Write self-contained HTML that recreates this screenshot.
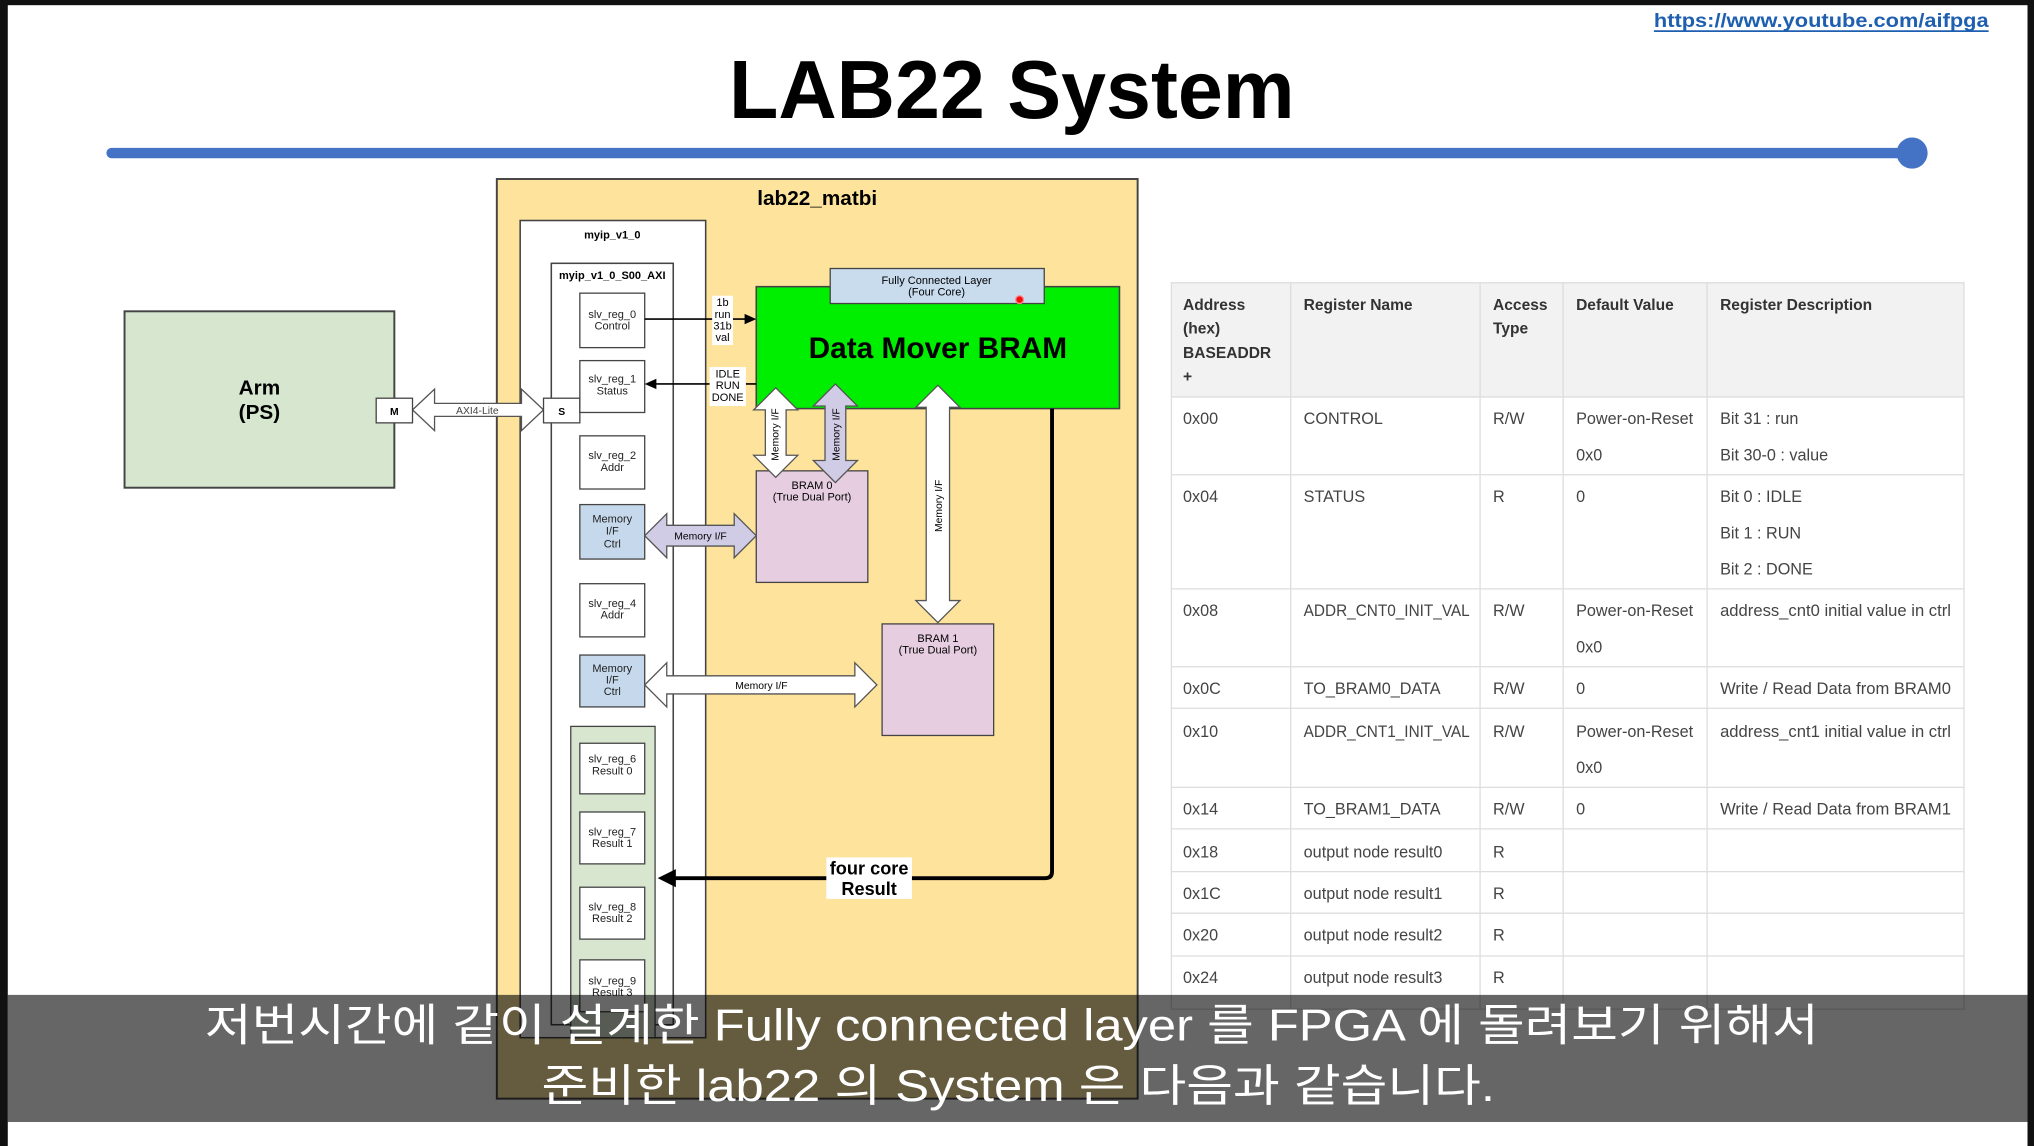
<!DOCTYPE html>
<html><head><meta charset="utf-8"><style>
html,body{margin:0;padding:0;background:#fff;overflow:hidden}
svg{display:block}
</style></head><body>
<svg width="2034" height="1146" viewBox="0 0 1568 883.5" preserveAspectRatio="none" xmlns="http://www.w3.org/2000/svg" font-family="Liberation Sans, Arial, sans-serif">
<rect x="0" y="0" width="1568" height="884" fill="#fff"/>
<rect x="0" y="0" width="1568" height="4" fill="#111"/>
<rect x="0" y="0" width="6" height="884" fill="#111"/>
<rect x="1563" y="0" width="5" height="884" fill="#111"/>
<text x="1404" y="21" text-anchor="middle" font-size="15" font-weight="bold" fill="#1f5fb0" textLength="258" lengthAdjust="spacingAndGlyphs">https://www.youtube.com/aifpga</text>
<line x1="1275" y1="24" x2="1533" y2="24" stroke="#1f5fb0" stroke-width="1.3"/>
<text x="780" y="91" text-anchor="middle" font-size="64" font-weight="bold" fill="#000" textLength="436" lengthAdjust="spacingAndGlyphs">LAB22 System</text>
<line x1="86" y1="118" x2="1474" y2="118" stroke="#4472c4" stroke-width="8" stroke-linecap="round"/>
<circle cx="1474" cy="118" r="12" fill="#4472c4"/>
<rect x="96" y="240" width="208" height="136" fill="#d6e6cf" stroke="#444" stroke-width="1.5"/>
<text x="200" y="304" text-anchor="middle" font-size="16" font-weight="bold">Arm</text>
<text x="200" y="323" text-anchor="middle" font-size="16" font-weight="bold">(PS)</text>
<rect x="383" y="138" width="494" height="709" fill="#fde39c" stroke="#444" stroke-width="1.5"/>
<text x="630" y="158" text-anchor="middle" font-size="16" font-weight="bold">lab22_matbi</text>
<rect x="401" y="170" width="143" height="630" fill="#fff" stroke="#444" stroke-width="1.2"/>
<text x="472" y="184" text-anchor="middle" font-size="8.5" font-weight="bold">myip_v1_0</text>
<rect x="425" y="203" width="94" height="587" fill="#fff" stroke="#444" stroke-width="1.2"/>
<text x="472" y="215" text-anchor="middle" font-size="8.5" font-weight="bold">myip_v1_0_S00_AXI</text>
<polygon points="318,316 335,300 335,311 402,311 402,300 419,316 402,332 402,321 335,321 335,332" fill="#fff" stroke="#555" stroke-width="1"/>
<text x="368" y="319" text-anchor="middle" font-size="8" fill="#444">AXI4-Lite</text>
<rect x="290" y="307" width="28" height="19" fill="#fff" stroke="#444"/>
<text x="304" y="320" text-anchor="middle" font-size="8" font-weight="bold">M</text>
<rect x="419" y="307" width="28" height="19" fill="#fff" stroke="#444"/>
<text x="433" y="320" text-anchor="middle" font-size="8" font-weight="bold">S</text>
<g font-size="8.5" text-anchor="middle" fill="#222">
<rect x="447" y="226" width="50" height="42" fill="#fff" stroke="#444"/>
<text x="472" y="245">slv_reg_0</text><text x="472" y="254">Control</text>
<rect x="447" y="278" width="50" height="40" fill="#fff" stroke="#444"/>
<text x="472" y="295">slv_reg_1</text><text x="472" y="304">Status</text>
<rect x="447" y="336" width="50" height="41" fill="#fff" stroke="#444"/>
<text x="472" y="354">slv_reg_2</text><text x="472" y="363">Addr</text>
<rect x="447" y="389" width="50" height="42" fill="#c6d9ec" stroke="#444"/>
<text x="472" y="403">Memory</text><text x="472" y="412">I/F</text><text x="472" y="422">Ctrl</text>
<rect x="447" y="450" width="50" height="41" fill="#fff" stroke="#444"/>
<text x="472" y="468">slv_reg_4</text><text x="472" y="477">Addr</text>
<rect x="447" y="505" width="50" height="40" fill="#c6d9ec" stroke="#444"/>
<text x="472" y="518">Memory</text><text x="472" y="527">I/F</text><text x="472" y="536">Ctrl</text>
<rect x="440" y="560" width="65" height="240" fill="#d8e6cf" stroke="#444"/>
<rect x="447" y="573" width="50" height="39" fill="#fff" stroke="#444"/>
<text x="472" y="588">slv_reg_6</text><text x="472" y="597">Result 0</text>
<rect x="447" y="626" width="50" height="40" fill="#fff" stroke="#444"/>
<text x="472" y="644">slv_reg_7</text><text x="472" y="653">Result 1</text>
<rect x="447" y="684" width="50" height="40" fill="#fff" stroke="#444"/>
<text x="472" y="702">slv_reg_8</text><text x="472" y="711">Result 2</text>
<rect x="447" y="740" width="50" height="40" fill="#fff" stroke="#444"/>
<text x="472" y="759">slv_reg_9</text><text x="472" y="768">Result 3</text>
</g>
<rect x="583" y="221" width="280" height="94" fill="#00ee00" stroke="#444" stroke-width="1.2"/>
<text x="723" y="276" text-anchor="middle" font-size="23" font-weight="bold">Data Mover BRAM</text>
<rect x="640" y="207" width="165" height="27" fill="#c9dcee" stroke="#444"/>
<text x="722" y="219" text-anchor="middle" font-size="8.5">Fully Connected Layer</text>
<text x="722" y="228" text-anchor="middle" font-size="8.5">(Four Core)</text>
<circle cx="786" cy="231" r="3" fill="#e11" stroke="#f88" stroke-width="1"/>
<line x1="497" y1="246" x2="576" y2="246" stroke="#000" stroke-width="1.2"/>
<polygon points="583,246 574,242 574,250" fill="#000"/>
<rect x="549" y="228" width="16" height="38" fill="#fff"/>
<g font-size="8.5" text-anchor="middle"><text x="557" y="236">1b</text><text x="557" y="245">run</text><text x="557" y="254">31b</text><text x="557" y="263">val</text></g>
<line x1="504" y1="296" x2="583" y2="296" stroke="#000" stroke-width="1.2"/>
<polygon points="497,296 506,292 506,300" fill="#000"/>
<rect x="547" y="283" width="28" height="30" fill="#fff"/>
<g font-size="8.5" text-anchor="middle"><text x="561" y="291">IDLE</text><text x="561" y="300">RUN</text><text x="561" y="309">DONE</text></g>
<rect x="583" y="363" width="86" height="86" fill="#e6cde0" stroke="#444"/>
<text x="626" y="377" text-anchor="middle" font-size="8.5">BRAM 0</text>
<text x="626" y="386" text-anchor="middle" font-size="8.5">(True Dual Port)</text>
<rect x="680" y="481" width="86" height="86" fill="#e6cde0" stroke="#444"/>
<text x="723" y="495" text-anchor="middle" font-size="8.5">BRAM 1</text>
<text x="723" y="504" text-anchor="middle" font-size="8.5">(True Dual Port)</text>
<polygon points="598,299 615,316 606,316 606,351 615,351 598,368 581,351 590,351 590,316 581,316" fill="#fff" stroke="#555"/>
<text transform="translate(600,335) rotate(-90)" text-anchor="middle" font-size="8">Memory I/F</text>
<polygon points="644,296 661,313 652,313 652,355 661,355 644,372 627,355 636,355 636,313 627,313" fill="#d0cce6" stroke="#555"/>
<text transform="translate(647,335) rotate(-90)" text-anchor="middle" font-size="8">Memory I/F</text>
<polygon points="723,297 740,314 732,314 732,463 740,463 723,480 706,463 714,463 714,314 706,314" fill="#fff" stroke="#555"/>
<text transform="translate(726,390) rotate(-90)" text-anchor="middle" font-size="8">Memory I/F</text>
<polygon points="497,413 514,396 514,405 566,405 566,396 583,413 566,430 566,421 514,421 514,430" fill="#d0cce6" stroke="#555"/>
<text x="540" y="416" text-anchor="middle" font-size="8">Memory I/F</text>
<polygon points="497,528 514,511 514,521 659,521 659,511 676,528 659,545 659,535 514,535 514,545" fill="#fff" stroke="#555"/>
<text x="587" y="531" text-anchor="middle" font-size="8">Memory I/F</text>
<path d="M811,315 L811,672 Q811,677 806,677 L518,677" fill="none" stroke="#000" stroke-width="3"/>
<polygon points="507,677 521,670 521,684" fill="#000"/>
<rect x="637" y="661" width="66" height="32" fill="#fff"/>
<text x="670" y="674" text-anchor="middle" font-size="14" font-weight="bold">four core</text>
<text x="670" y="690" text-anchor="middle" font-size="14" font-weight="bold">Result</text>
<rect x="903" y="218" width="611" height="88" fill="#f2f2f2"/>
<g stroke="#ddd" stroke-width="1" fill="none">
<rect x="903" y="218" width="611" height="560"/>
<line x1="995" y1="218" x2="995" y2="778"/><line x1="1141" y1="218" x2="1141" y2="778"/>
<line x1="1205" y1="218" x2="1205" y2="778"/><line x1="1316" y1="218" x2="1316" y2="778"/>
<line x1="903" y1="306" x2="1514" y2="306"/><line x1="903" y1="366" x2="1514" y2="366"/>
<line x1="903" y1="454" x2="1514" y2="454"/><line x1="903" y1="514" x2="1514" y2="514"/>
<line x1="903" y1="546" x2="1514" y2="546"/><line x1="903" y1="607" x2="1514" y2="607"/>
<line x1="903" y1="639" x2="1514" y2="639"/><line x1="903" y1="672" x2="1514" y2="672"/>
<line x1="903" y1="704" x2="1514" y2="704"/><line x1="903" y1="737" x2="1514" y2="737"/>
</g>
<g font-size="12" font-weight="bold" fill="#333">
<text x="912" y="239">Address</text><text x="912" y="257">(hex)</text><text x="912" y="276">BASEADDR</text><text x="912" y="294">+</text>
<text x="1005" y="239">Register Name</text>
<text x="1151" y="239">Access</text><text x="1151" y="257">Type</text>
<text x="1215" y="239">Default Value</text>
<text x="1326" y="239">Register Description</text>
</g>
<g font-size="12.5" fill="#444">
<text x="912" y="327">0x00</text><text x="1005" y="327">CONTROL</text><text x="1151" y="327">R/W</text><text x="1215" y="327">Power-on-Reset</text><text x="1326" y="327">Bit 31 : run</text>
<text x="1215" y="355">0x0</text><text x="1326" y="355">Bit 30-0 : value</text>
<text x="912" y="387">0x04</text><text x="1005" y="387">STATUS</text><text x="1151" y="387">R</text><text x="1215" y="387">0</text><text x="1326" y="387">Bit 0 : IDLE</text>
<text x="1326" y="415">Bit 1 : RUN</text><text x="1326" y="443">Bit 2 : DONE</text>
<text x="912" y="475">0x08</text><text x="1005" y="475" textLength="128" lengthAdjust="spacingAndGlyphs">ADDR_CNT0_INIT_VAL</text><text x="1151" y="475">R/W</text><text x="1215" y="475">Power-on-Reset</text><text x="1326" y="475" textLength="178" lengthAdjust="spacingAndGlyphs">address_cnt0 initial value in ctrl</text>
<text x="1215" y="503">0x0</text>
<text x="912" y="535">0x0C</text><text x="1005" y="535">TO_BRAM0_DATA</text><text x="1151" y="535">R/W</text><text x="1215" y="535">0</text><text x="1326" y="535" textLength="178" lengthAdjust="spacingAndGlyphs">Write / Read Data from BRAM0</text>
<text x="912" y="568">0x10</text><text x="1005" y="568" textLength="128" lengthAdjust="spacingAndGlyphs">ADDR_CNT1_INIT_VAL</text><text x="1151" y="568">R/W</text><text x="1215" y="568">Power-on-Reset</text><text x="1326" y="568" textLength="178" lengthAdjust="spacingAndGlyphs">address_cnt1 initial value in ctrl</text>
<text x="1215" y="596">0x0</text>
<text x="912" y="628">0x14</text><text x="1005" y="628">TO_BRAM1_DATA</text><text x="1151" y="628">R/W</text><text x="1215" y="628">0</text><text x="1326" y="628" textLength="178" lengthAdjust="spacingAndGlyphs">Write / Read Data from BRAM1</text>
<text x="912" y="661">0x18</text><text x="1005" y="661">output node result0</text><text x="1151" y="661">R</text>
<text x="912" y="693">0x1C</text><text x="1005" y="693">output node result1</text><text x="1151" y="693">R</text>
<text x="912" y="725">0x20</text><text x="1005" y="725">output node result2</text><text x="1151" y="725">R</text>
<text x="912" y="758">0x24</text><text x="1005" y="758">output node result3</text><text x="1151" y="758">R</text>
</g>
<rect x="6" y="767" width="1557" height="98" fill="rgba(0,0,0,0.6)"/>
<g font-family="Liberation Sans, Noto Sans CJK KR, NanumGothic, sans-serif" font-size="34" fill="#fff" text-anchor="middle">
<text x="780" y="802" textLength="1244" lengthAdjust="spacingAndGlyphs">저번시간에 같이 설계한 Fully connected layer 를 FPGA 에 돌려보기 위해서</text>
<text x="785" y="849" textLength="735" lengthAdjust="spacingAndGlyphs">준비한 lab22 의 System 은 다음과 같습니다.</text>
</g>
</svg>
</body></html>
